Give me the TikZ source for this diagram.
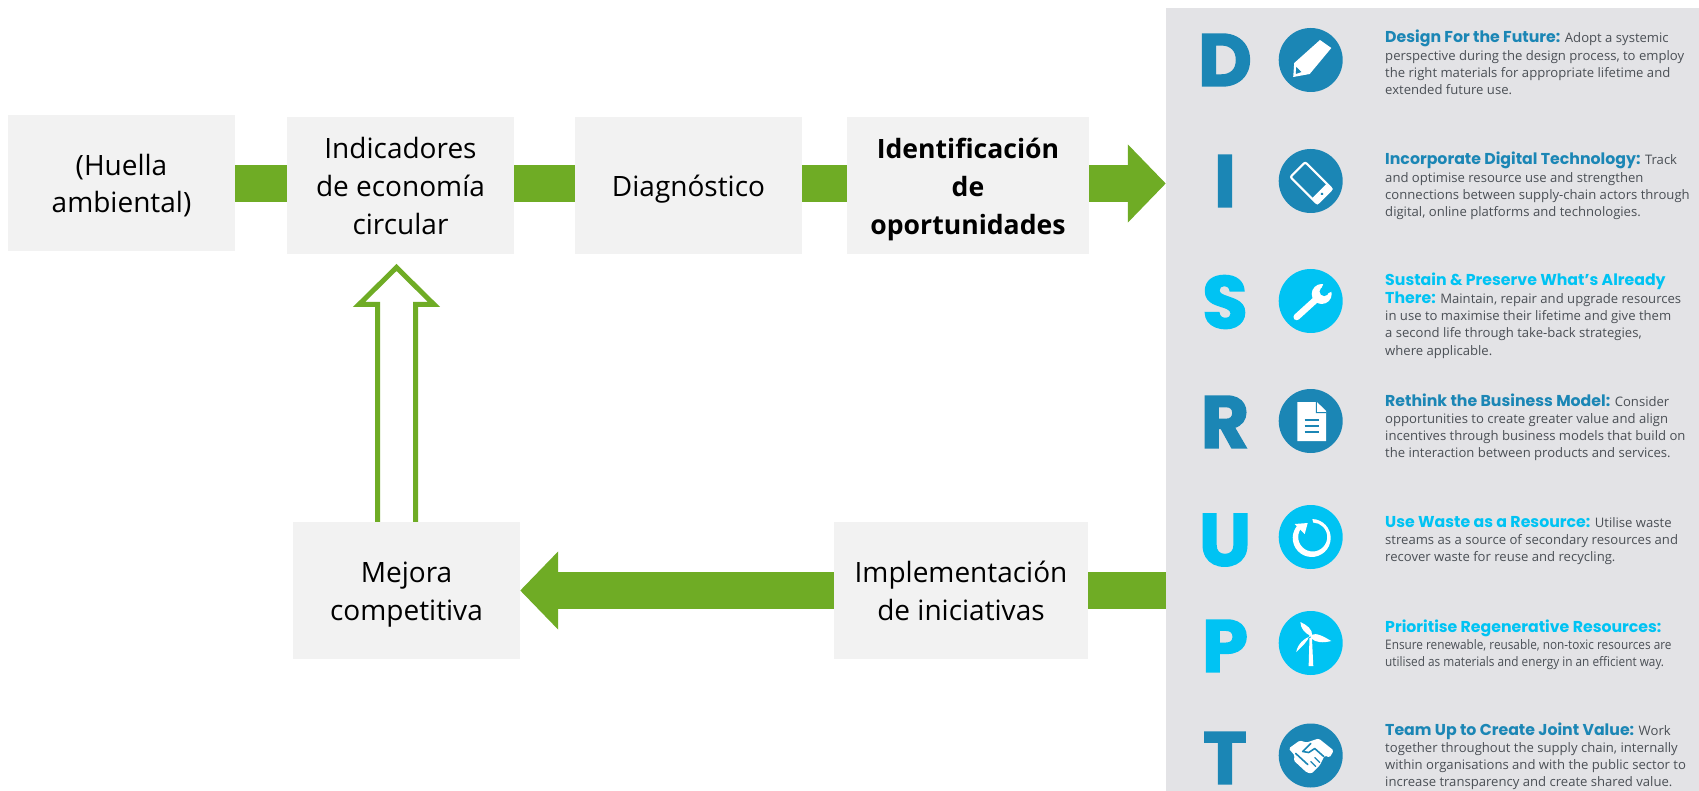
\documentclass[tikz,border=0pt]{standalone}
\usepackage{fontspec}
\usepackage{graphicx}
\usetikzlibrary{arrows.meta,calc}
\setmainfont{Open Sans}
\newfontfamily\hdfont{Poppins}
\newfontfamily\bigfont[FakeBold=2]{Poppins}
\definecolor{pgreen}{HTML}{6FAC25}
\definecolor{boxgray}{HTML}{F2F2F2}
\definecolor{panelgray}{HTML}{E3E3E6}
\definecolor{dblue}{HTML}{1B86B5}
\definecolor{lblue}{HTML}{00C3F3}
\definecolor{bodytxt}{HTML}{4A4F55}
\newcommand{\hd}[2]{{\hdfont\bfseries\fontsize{15.75}{17}\selectfont\color{#1}#2}}
\newcommand{\para}[1]{\vtop{\baselineskip=17.3pt\lineskiplimit=-20pt\lineskip=0pt #1}}
\newcommand{\tl}{\rule{0pt}{30pt}}
\newcommand{\bl}{\rule[-8pt]{0pt}{8pt}}
\tikzset{
  x=1pt,y=-1pt,
  stepbox/.style={fill=boxgray,inner sep=0pt,align=center,text=black,
    font=\fontsize{28}{37.9}\selectfont},
  pipe/.style={line width=37.5pt,draw=pgreen},
  bigarrow/.style={pipe,-{Triangle[length=38pt,width=76pt]}},
  hollow/.style={draw=pgreen,line width=5pt,fill=white,miter limit=10},
  txtblock/.style={anchor=base west,inner sep=0pt,text=bodytxt,font=\fontsize{13.1}{17.3}\selectfont},
  bigletter/.style={inner sep=0pt,font=\bigfont\bfseries\fontsize{74}{74}\selectfont},
  disc/.style={circle,minimum size=64pt,inner sep=0pt},
}
\begin{document}
\begin{tikzpicture}
\useasboundingbox (0,0) rectangle (1699,791);
\fill[white] (0,0) rectangle (1699,791);
\node[fill=panelgray,minimum width=533pt,minimum height=783pt,inner sep=0pt] (panel) at (1432.5,399.5) {};
% hollow arrow (behind the boxes)
\coordinate (upbase) at (396.5,524);
\coordinate (uptip) at (396.5,267.5);
\draw[hollow] (upbase) ++(-19,0) -- ++(0,-219.5) -- ++(-18.5,0) -- (uptip) -- ++(37.5,37) -- ++(-18.5,0) -- ++(0,219.5);
% boxes
\node[stepbox,minimum width=227pt,minimum height=136pt] (huella) at (121.5,183) {\tl(Huella\\ambiental)\bl};
\node[stepbox,minimum width=227pt,minimum height=137pt] (indic) at (400.5,185.5) {\tl Indicadores\\de economía\\circular\bl};
\node[stepbox,minimum width=227pt,minimum height=137pt] (diag) at (688.5,185.5) {\tl Diagnóstico\bl};
\node[stepbox,minimum width=242pt,minimum height=137pt,font=\fontsize{26.6}{37.9}\selectfont\bfseries] (ident) at (968,185.5) {\tl Identificación\\de\\oportunidades\bl};
\node[stepbox,minimum width=227pt,minimum height=137pt] (mejora) at (406.5,590.5) {\tl Mejora\\competitiva\bl};
\node[stepbox,minimum width=254pt,minimum height=137pt] (impl) at (961,590.5) {\tl Implementación\\de iniciativas\bl};
% connectors
\draw[pipe] (huella.east) ++(0,0.5) -- (indic.west |- 0,183.5);
\draw[pipe] (indic.east |- 0,183.5) -- (diag.west |- 0,183.5);
\draw[pipe] (diag.east |- 0,183.5) -- (ident.west |- 0,183.5);
\draw[bigarrow] (ident.east |- 0,183.5) -- (panel.west |- 0,183.5);
\draw[pipe] (panel.west |- impl.east) -- (impl.east);
\draw[bigarrow] (impl.west) -- (mejora.east);
% letters
\node[bigletter,text=dblue] (lD) at (1225,60) {D};
\node[bigletter,text=dblue] (lI) at (1225,181) {I};
\node[bigletter,text=lblue] (lS) at (1225,302) {S};
\node[bigletter,text=dblue] (lR) at (1225,422) {R};
\node[bigletter,text=lblue] (lU) at (1225,540) {U};
\node[bigletter,text=lblue] (lP) at (1225,646) {P};
\node[bigletter,text=dblue] (lT) at (1225,758) {T};
% discs
\node[disc,fill=dblue] (c1) at (1310.7,60) {};
\node[disc,fill=dblue] (c2) at (1310.7,181) {};
\node[disc,fill=lblue] (c3) at (1310.7,301) {};
\node[disc,fill=dblue] (c4) at (1310.7,421) {};
\node[disc,fill=lblue] (c5) at (1310.7,537) {};
\node[disc,fill=lblue] (c6) at (1310.7,643) {};
\node[disc,fill=dblue] (c7) at (1310.7,755.5) {};
% pencil
\begin{scope}[shift={(c1.center)},xscale=1.03]
\fill[white] (9,-20) -- (20,-12) -- (-1,14) -- (-17,17) -- (-16,3) -- cycle;
\fill[dblue] (-14,7) -- (-9,12) -- (-14.5,14) -- cycle;
\end{scope}
% phone
\begin{scope}[shift={(c2.center)}]
\begin{scope}[shift={(0.5,2)},rotate=45]
\draw[white,line width=2.2pt,rounded corners=2pt] (-10.5,-19) rectangle (10.5,19);
\fill[white] (-11,11.5) rectangle (11,19.5);
\fill[dblue] (0,15.3) circle (1.5);
\end{scope}
\end{scope}
% wrench
\begin{scope}[shift={(c3.center)}]
\draw[white,line width=6.5pt,line cap=round] (-14,16) -- (8,-4);
\fill[white] (11,-7) circle (10);
\fill[lblue] (13.5,-9.5) circle (4.6);
\fill[lblue] (10.5,-12) -- (15,-22) -- (26,-12) -- (16,-7) -- cycle;
\end{scope}
% document
\begin{scope}[shift={(c4.center)},xscale=1.03]
\fill[white] (-13,-19) -- (6,-19) -- (15,-10) -- (15,20) -- (-13,20) -- cycle;
\fill[dblue] (6,-19) -- (6,-9) -- (15,-9) -- (15,-8) -- (5,-8) -- (5,-19) -- cycle;
\draw[dblue,line width=1.8pt] (-6,-1) -- (8,-1) (-6,5) -- (8,5) (-6,11) -- (8,11);
\end{scope}
% circular arrow
\begin{scope}[shift={(c5.center)}]
\fill[white] (1.66,-18) arc[start angle=-88,end angle=225,radius=19] -- (-8.25,-10.25) arc[start angle=225,end angle=-88,radius=14.5] -- cycle;
\fill[white] (-16,-13) -- (-3,-14) -- (-6,-3) -- cycle;
\end{scope}
% turbine
\begin{scope}[shift={(c6.center)},xscale=1.03]
\fill[white] (-1.2,-5) -- (1.2,-5) -- (2.5,23) -- (-2,23) -- cycle;
\fill[white] (0,-7) .. controls (-6,-10) and (-10,-15) .. (-10,-21) .. controls (-4,-18) and (2,-14) .. (1.5,-7) -- cycle;
\fill[white] (0,-8) .. controls (6,-11) and (13,-6) .. (20,-2) .. controls (12,0) and (5,0) .. (0,-5) -- cycle;
\fill[white] (-1,-8) .. controls (-3,-1) and (-9,4) .. (-14,9) .. controls (-13,2) and (-7,-5) .. (1,-7) -- cycle;
\end{scope}
% handshake
\begin{scope}[shift={(c7.center)}]
\fill[white,rounded corners=1.5pt] (-22,-7) -- (-11,-15) -- (-4,-13) -- (8,-17) -- (23,-5) -- (19,2) -- (14,0) -- (9,10) -- (1,18) -- (-4,17) -- (-17,5) -- (-16,0) -- cycle;
\draw[dblue,line width=1.6pt,line cap=round] (-15,-2) -- (-3,9);
\draw[dblue,line width=1.6pt,line cap=round,line join=round] (0,-12) -- (-8,-4) -- (-2,-3) -- (4,-7) -- (13,1);
\draw[dblue,line width=1.2pt,line cap=round] (5,11) -- (0,6) (9,7) -- (4,2);
\end{scope}
% texts
\node[txtblock] (t1) at (1385,43) {\para{\hbox{\hd{dblue}{Design For the Future:} Adopt a systemic}\hbox{perspective during the design process, to employ}\hbox{the right materials for appropriate lifetime and}\hbox{extended future use.}}};
\node[txtblock] (t2) at (1385,165) {\para{\hbox{\hd{dblue}{Incorporate Digital Technology:} Track}\hbox{and optimise resource use and strengthen}\hbox{connections between supply-chain actors through}\hbox{digital, online platforms and technologies.}}};
\node[txtblock] (t3) at (1385,286) {\para{\hbox{\hd{lblue}{Sustain \& Preserve What’s Already}}\hbox{\hd{lblue}{There:} Maintain, repair and upgrade resources}\hbox{in use to maximise their lifetime and give them}\hbox{a second life through take-back strategies,}\hbox{where applicable.}}};
\node[txtblock] (t4) at (1385,406) {\para{\hbox{\hd{dblue}{Rethink the Business Model:} Consider}\hbox{opportunities to create greater value and align}\hbox{incentives through business models that build on}\hbox{the interaction between products and services.}}};
\node[txtblock] (t5) at (1385,527) {\para{\hbox{\hd{lblue}{Use Waste as a Resource:} Utilise waste}\hbox{streams as a source of secondary resources and}\hbox{recover waste for reuse and recycling.}}};
\node[txtblock] (t6) at (1385,632) {\para{\hbox{\hd{lblue}{Prioritise Regenerative Resources:}}\hbox{\scalebox{0.9}[1]{Ensure renewable, reusable, non-toxic resources are}}\hbox{\scalebox{0.9}[1]{utilised as materials and energy in an efficient way.}}}};
\node[txtblock] (t7) at (1385,735) {\para{\hbox{\hd{dblue}{Team Up to Create Joint Value:} Work}\hbox{together throughout the supply chain, internally}\hbox{within organisations and with the public sector to}\hbox{increase transparency and create shared value.}}};
\end{tikzpicture}
\end{document}
